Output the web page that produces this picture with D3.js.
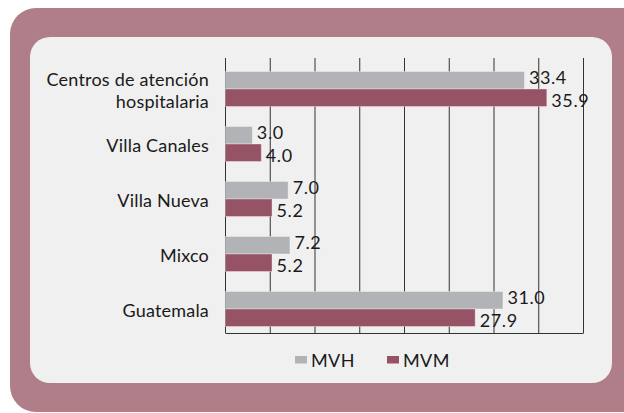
<!DOCTYPE html>
<html>
<head>
<meta charset="utf-8">
<script src="https://cdn.jsdelivr.net/npm/d3@7"></script>
<style>
    body { margin: 0; background: #ffffff; }
    #chart { width: 624px; height: 413px; }
    text { font-family: "Century Gothic", Futura, Lato, sans-serif; fill: #1a1a1a; }
</style>
</head>
<body>
<div id="chart"></div>
<script>
// data
const categories = ["Centros de atención hospitalaria", "Villa Canales", "Villa Nueva", "Mixco", "Guatemala"];
const categoryLines = [["Centros de atención", "hospitalaria"], ["Villa Canales"], ["Villa Nueva"], ["Mixco"], ["Guatemala"]];
const series = ["MVH", "MVM"];
const mvhValues = [33.4, 3.0, 7.0, 7.2, 31.0];
const mvmValues = [35.9, 4.0, 5.2, 5.2, 27.9];
const xTickValues = [0, 5, 10, 15, 20, 25, 30, 35, 40];

const colors = { MVH: "#b1b3b6", MVM: "#965365" };

const W = 624, H = 413;
const svg = d3.select("#chart").append("svg")
    .attr("width", W)
    .attr("height", H);

// mauve frame, bottom-right corner runs off the page
const frame = d3.path();
const fx = 10, fy = 8, fr = 26, fw = 640, fh = 404;
frame.moveTo(fx + fr, fy);
frame.lineTo(fx + fw - fr, fy);
frame.arcTo(fx + fw, fy, fx + fw, fy + fr, fr);
frame.lineTo(fx + fw, fy + fh);
frame.lineTo(fx + fr, fy + fh);
frame.arcTo(fx, fy + fh, fx, fy + fh - fr, fr);
frame.lineTo(fx, fy + fr);
frame.arcTo(fx, fy, fx + fr, fy, fr);
frame.closePath();
svg.append("path").attr("d", frame.toString()).attr("fill", "#b07e88");

svg.append("rect")
    .attr("x", 30).attr("y", 37)
    .attr("width", 582).attr("height", 346)
    .attr("rx", 20).attr("ry", 20)
    .attr("fill", "#f0f0f0");

const margin = { top: 58, left: 225, right: 41, bottom: 80 };
const width = W - margin.left - margin.right;
const height = H - margin.top - margin.bottom;

const g = svg.append("g")
    .attr("transform", `translate(${margin.left},${margin.top})`);

const x = d3.scaleLinear().domain([0, 40]).range([0, width]);
const y0 = d3.scaleBand().domain(categories).range([0, height]);
const bw = y0.bandwidth();
const y1 = d3.scaleBand().domain(series).range([bw * 0.245, bw * 0.882]);

// vertical gridlines + bottom line
g.append("g")
    .attr("transform", `translate(0,${height})`)
    .call(d3.axisBottom(x).tickValues(xTickValues).tickSize(-height).tickSizeOuter(0).tickFormat(""))
    .call(a => a.selectAll("line").attr("stroke", "#333").attr("stroke-width", 1))
    .call(a => a.select(".domain").attr("stroke", "#333").attr("stroke-width", 1.2));

const rows = categories.map((c, i) => ({ cat: c, lines: categoryLines[i], MVH: mvhValues[i], MVM: mvmValues[i] }));

const rowG = g.selectAll(".row")
    .data(rows)
    .join("g")
    .attr("class", "row")
    .attr("transform", d => `translate(0,${y0(d.cat)})`);

rowG.selectAll("rect")
    .data(d => series.map(s => ({ key: s, value: d[s] })))
    .join("rect")
    .attr("x", x(0) + 0.5)
    .attr("y", d => y1(d.key))
    .attr("width", d => x(d.value) - x(0))
    .attr("height", y1.bandwidth())
    .attr("fill", d => colors[d.key])
    .attr("stroke", "#ffffff")
    .attr("stroke-opacity", 0.35)
    .attr("stroke-width", 1);

rowG.selectAll(".val")
    .data(d => series.map(s => ({ key: s, value: d[s] })))
    .join("text")
    .attr("class", "val")
    .attr("x", d => x(d.value) + 5)
    .attr("y", d => y1(d.key) + y1.bandwidth() / 2 + (d.key === "MVH" ? -3 : 3))
    .attr("dy", "0.36em")
    .style("font-size", "18px")
    .style("letter-spacing", "0.6px")
    .text(d => d.value.toFixed(1));

// category labels
const pairMid = (y1("MVH") + y1("MVM") + y1.bandwidth()) / 2;
rowG.append("text")
    .attr("text-anchor", "end")
    .attr("x", -16)
    .attr("y", pairMid + 1.5)
    .style("font-size", "18px")
    .style("letter-spacing", "0.2px")
    .selectAll("tspan")
    .data(d => d.lines.map((l, i) => ({ l, i, n: d.lines.length })))
    .join("tspan")
    .attr("x", -16)
    .attr("dy", d => d.i === 0 ? `${0.36 - (d.n - 1) * 0.62}em` : "1.22em")
    .text(d => d.l);

// legend
const legendX = [295, 387];
const legend = svg.append("g").attr("transform", "translate(0,360)");
series.forEach((s, i) => {
    legend.append("rect")
        .attr("x", legendX[i]).attr("y", -4)
        .attr("width", 12).attr("height", 7.5)
        .attr("fill", colors[s]);
    legend.append("text")
        .attr("x", legendX[i] + 16)
        .attr("y", 0.5)
        .attr("dy", "0.36em")
        .style("font-size", "18px")
        .style("letter-spacing", "0.4px")
        .text(s);
});
</script>
</body>
</html>
